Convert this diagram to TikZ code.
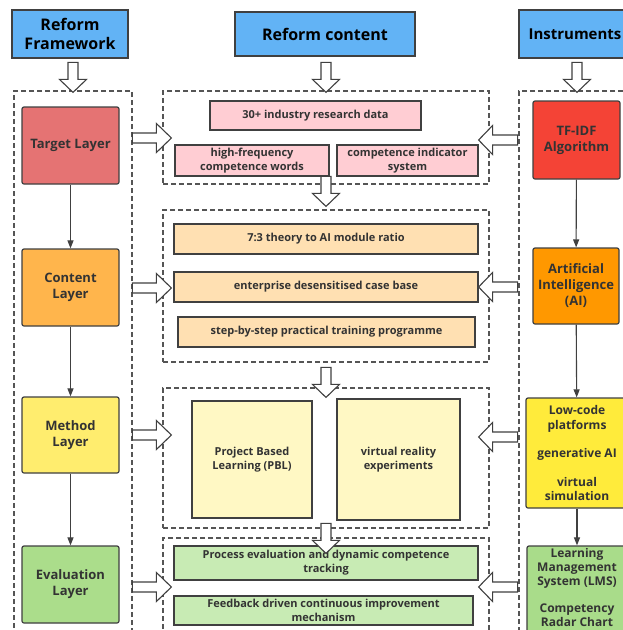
\documentclass[tikz,border=0pt]{standalone}
\usepackage{fontspec}
\setmainfont{Open Sans}
\usetikzlibrary{arrows.meta,calc}
\definecolor{hblue}{HTML}{62B3F5}
\definecolor{bord}{HTML}{404040}
\definecolor{txt}{HTML}{333333}
\definecolor{ctarget}{HTML}{E57373}
\definecolor{ccontent}{HTML}{FFB54C}
\definecolor{cmethod}{HTML}{FFED6E}
\definecolor{ceval}{HTML}{ABDD8B}
\definecolor{ctfidf}{HTML}{F44336}
\definecolor{cai}{HTML}{FF9800}
\definecolor{clow}{HTML}{FFEB3B}
\definecolor{clms}{HTML}{A9DC8A}
\definecolor{cpink}{HTML}{FFCDD3}
\definecolor{cpeach}{HTML}{FFE0B2}
\definecolor{cpale}{HTML}{FFF8C4}
\definecolor{cgreen}{HTML}{C8EBB4}
\definecolor{dashc}{HTML}{555555}
\tikzset{
  hdr/.style={draw=bord, fill=hblue, line width=1.2pt, text=black, align=center,
    font=\fontsize{16}{19}\selectfont\bfseries, inner sep=0pt},
  layerbox/.style={draw=bord, line width=1.2pt, rounded corners=2pt, text=txt, align=center,
    font=\fontsize{13}{16}\selectfont\bfseries, inner sep=0pt},
  cbox/.style={draw=bord, line width=1.2pt, text=txt, align=center,
    font=\fontsize{11}{14}\selectfont\bfseries, inner sep=0pt},
  panel/.style={draw=dashc, line width=1.2pt, dash pattern=on 5pt off 3pt, inner sep=0pt},
  link/.style={draw=bord, line width=1.1pt, -{Triangle[length=8pt,width=6pt]}},
  harrow/.style={draw=bord, fill=white, line width=1.1pt, line join=miter},
  pics/darrow/.style={code={\draw[harrow] (-5,-30) -- (5,-30) -- (5,-13) -- (13.5,-13) -- (0,0) -- (-13.5,-13) -- (-5,-13) -- cycle;}},
  pics/rarrow/.style={code={\draw[harrow] (-39,-5) -- (-15,-5) -- (-15,-14.5) -- (0,0) -- (-15,14.5) -- (-15,5) -- (-39,5) -- cycle;}},
  pics/larrow/.style={code={\draw[harrow] (39,-5) -- (14,-5) -- (14,-14.5) -- (0,0) -- (14,14.5) -- (14,5) -- (39,5) -- cycle;}},
}
\begin{document}
\begin{tikzpicture}[x=1pt,y=-1pt]
\useasboundingbox (0,0) rectangle (623,630);
\fill[white] (0,0) rectangle (623,630);
\clip (0,0) rectangle (623,630);

% headers
\node[hdr, minimum width=116pt, minimum height=48pt] (hF) at (70,34) {Reform\\Framework};
\node[hdr, minimum width=180pt, minimum height=44pt] (hC) at (325,34) {Reform content};
\node[hdr, minimum width=112pt, minimum height=48pt, font=\fontsize{15}{18}\selectfont\bfseries] (hI) at (575,34) {Instruments};

% panels
\node[panel, minimum width=118pt, minimum height=560pt] (PL) at (73,371) {};
\node[panel, minimum width=116pt, minimum height=560pt] (PR) at (577,371) {};
\node[panel, minimum width=326pt, minimum height=93pt] (P1) at (326,137.5) {};
\node[panel, minimum width=326pt, minimum height=152pt] (P2) at (326,286) {};
\node[panel, minimum width=326pt, minimum height=140pt] (P3) at (326,458) {};
\node[panel, minimum width=326pt, minimum height=110pt] (P4) at (326,593) {};

% left layers
\node[layerbox, fill=ctarget, minimum width=97pt, minimum height=77pt] (L1) at (70.5,145.5) {Target Layer};
\node[layerbox, fill=ccontent, minimum width=97pt, minimum height=77pt] (L2) at (70.5,287.5) {Content\\Layer};
\node[layerbox, fill=cmethod, minimum width=97pt, minimum height=76pt] (L3) at (70.5,435) {Method\\Layer};
\node[layerbox, fill=ceval, minimum width=97pt, minimum height=77pt] (L4) at (70.5,584.5) {Evaluation\\Layer};

% right instruments
\node[layerbox, fill=ctfidf, minimum width=87pt, minimum height=78pt] (R1) at (576.5,140) {TF-IDF\\Algorithm};
\node[layerbox, fill=cai, minimum width=86pt, minimum height=76pt] (R2) at (576,286) {Artificial\\Intelligence\\(AI)};
\node[layerbox, fill=clow, minimum width=102pt, minimum height=110pt, font=\fontsize{12}{14.5}\selectfont\bfseries] (R3) at (577,453)
  {Low-code\\platforms\\[14pt]generative AI\\[14pt]virtual\\simulation};
\node[layerbox, fill=clms, minimum width=100pt, minimum height=100pt] (R4) at (577,596) {};
\node[text=txt, align=center, font=\fontsize{12}{14}\selectfont\bfseries, inner sep=0pt] (R4t) at (577,587)
  {Learning\\Management\\System (LMS)\\[13pt]Competency\\Radar Chart};

% middle content boxes
\node[cbox, fill=cpink, minimum width=211pt, minimum height=29pt] (A1) at (315.5,115.5) {30+ industry research data};
\node[cbox, fill=cpink, minimum width=154pt, minimum height=31pt] (A2) at (252,160.5) {high-frequency\\competence words};
\node[cbox, fill=cpink, minimum width=141pt, minimum height=31pt] (A3) at (407.5,160.5) {competence indicator\\system};

\node[cbox, fill=cpeach, minimum width=304pt, minimum height=30pt] (B1) at (326,239) {7:3 theory to AI module ratio};
\node[cbox, fill=cpeach, minimum width=304pt, minimum height=30pt] (B2) at (326,287) {enterprise desensitised case base};
\node[cbox, fill=cpeach, minimum width=297pt, minimum height=30pt] (B3) at (326.5,332) {step-by-step practical training programme};

\node[cbox, fill=cpale, minimum width=120pt, minimum height=117pt] (C1) at (252,459.5) {Project Based\\Learning (PBL)};
\node[cbox, fill=cpale, minimum width=123pt, minimum height=121pt] (C2) at (398.5,459.5) {virtual reality\\experiments};

\node[cbox, fill=cgreen, minimum width=304pt, minimum height=34pt] (D1) at (326,563) {Process evaluation and dynamic competence\\tracking};
\node[cbox, fill=cgreen, minimum width=299pt, minimum height=29pt] (D2) at (323.5,610.5) {Feedback driven continuous improvement\\mechanism};

% vertical links
\draw[link] (L1) -- (L2);
\draw[link] (L2) -- (L3);
\draw[link] (L3) -- (L4);
\draw[link] (R1) -- (R2);
\draw[link] (R2) -- (R3);
\draw[link] (R3) -- (R4);

% hollow arrows from headers
\pic at ($(PL.north)+(0,2)$) {darrow};
\pic at ($(P1.north)+(0,2)$) {darrow};
\pic at ($(PR.north)+(0,2)$) {darrow};

% hollow arrows between middle panels
\pic at ($(P2.north)+(0,-3)$) {darrow};
\pic at ($(P3.north)+(0,10)$) {darrow};
\pic at ($(P4.north)+(0,16)$) {darrow};

% hollow arrows from left panel
\pic at ($(P1.west |- 0,138)+(9,0)$) {rarrow};
\pic at ($(P2.west |- 0,288)+(9,0)$) {rarrow};
\pic at ($(P3.west |- 0,435)+(9,0)$) {rarrow};
\pic at ($(P4.west |- 0,587)+(9,0)$) {rarrow};

% hollow arrows from right panel
\pic at ($(P1.east |- 0,140)+(-11,0)$) {larrow};
\pic at ($(P2.east |- 0,287)+(-11,0)$) {larrow};
\pic at ($(P3.east |- 0,437)+(-11,0)$) {larrow};
\pic at ($(P4.east |- 0,587)+(-11,0)$) {larrow};
\end{tikzpicture}
\end{document}
